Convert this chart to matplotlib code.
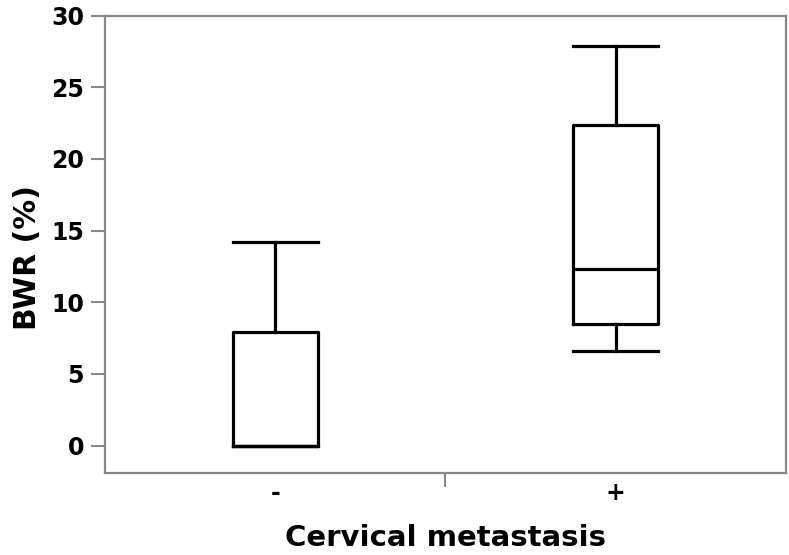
import matplotlib
matplotlib.use("Agg")
import matplotlib.pyplot as plt

categories = ["-", "+"]
whisker_low = [0.0, 6.6]
q1 = [0.0, 8.5]
median = [0.0, 12.35]
q3 = [7.95, 22.35]
whisker_high = [14.2, 27.85]

plt.rcParams['font.family'] = ['DejaVu Sans']

fig = plt.figure(figsize=(7.89, 5.55), dpi=100)
ax = fig.add_axes([0.133, 0.148, 0.863, 0.824])

stats = []
for i, c in enumerate(categories):
    stats.append(dict(label=c, whislo=whisker_low[i], q1=q1[i], med=median[i],
                      q3=q3[i], whishi=whisker_high[i], fliers=[]))

lw = 2.3
ax.bxp(stats, positions=[1, 2], widths=0.25, showfliers=False,
       boxprops=dict(color='black', linewidth=lw),
       whiskerprops=dict(color='black', linewidth=lw),
       capprops=dict(color='black', linewidth=lw),
       medianprops=dict(color='black', linewidth=lw),
       capwidths=0.25)

ax.set_xlim(0.5, 2.5)
ax.set_ylim(-1.9, 30)
ax.set_yticks([0, 5, 10, 15, 20, 25, 30])
ax.set_yticklabels(["0", "5", "10", "15", "20", "25", "30"], fontsize=17, fontweight='bold')

ax.set_xticks([1.5])
ax.set_xticklabels([""])
ax.tick_params(axis='x', length=10, width=1.5, color='#888888')
ax.tick_params(axis='y', length=10, width=1.5, color='#888888', pad=5)
for i, c in enumerate(categories):
    ax.text(i + 1, -0.044, c, transform=ax.get_xaxis_transform(), ha='center', va='center',
            fontsize=17, fontweight='bold')

for s in ax.spines.values():
    s.set_color('#888888')
    s.set_linewidth(1.6)

fig.text(27 / 789, (555 - 257) / 555, "BWR (%)", rotation=90, ha='center', va='center',
         fontsize=21.5, fontweight='bold')
ax.text(0.5, -0.160, "Cervical metastasis", transform=ax.transAxes, ha='center', va='baseline',
        fontsize=21, fontweight='bold')

fig.savefig("out.png", dpi=100)
